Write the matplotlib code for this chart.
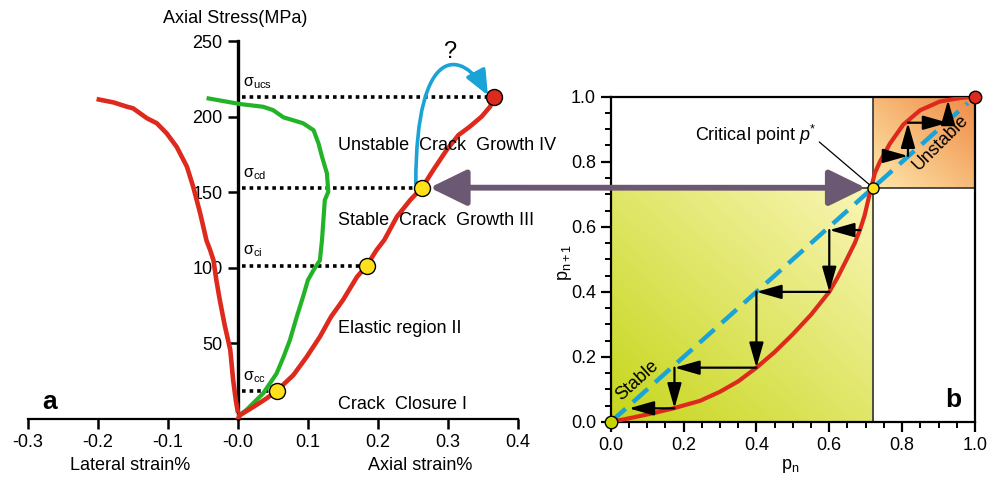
import numpy as np
import matplotlib
matplotlib.use("Agg")
import matplotlib.pyplot as plt
from matplotlib.patches import Rectangle, FancyArrowPatch, ConnectionPatch
from matplotlib.path import Path
from matplotlib.colors import to_rgb

plt.rcParams['font.family'] = ['Liberation Sans', 'DejaVu Sans']
plt.rcParams['mathtext.fontset'] = 'custom'
plt.rcParams['mathtext.rm'] = 'Liberation Sans'
plt.rcParams['mathtext.it'] = 'Liberation Sans:italic'

# ---------------- Panel a data ----------------
lat_strain = [-0.000, -0.003, -0.007, -0.011, -0.019, -0.026, -0.031, -0.035, -0.040, -0.045,
              -0.054, -0.064, -0.073, -0.0876, -0.102, -0.116, -0.130, -0.150, -0.159, -0.178, -0.202]
lat_stress = [4, 12, 26, 45.6, 62, 78.7, 92, 105, 112, 118,
              136, 153.6, 166.9, 180, 189, 195.6, 198.9, 205.5, 206.6, 209.4, 211.6]

vol_strain = [0.002, 0.012, 0.036, 0.055, 0.065, 0.074, 0.084, 0.093, 0.100, 0.108, 0.117, 0.120,
              0.124, 0.129, 0.127, 0.120, 0.115, 0.108, 0.093, 0.065, 0.050, 0.036, 0.003, -0.042]
vol_stress = [2.6, 6, 17, 30, 41, 52, 67.7, 81, 92, 98.5, 105, 118.4,
              144.8, 150.3, 162.5, 173.5, 182.3, 191, 195.6, 199.5, 204.3, 206.5, 208.3, 212]

ax_strain = [0.0, 0.003, 0.022, 0.041, 0.055, 0.079, 0.098, 0.117, 0.133, 0.150, 0.170, 0.184, 0.198,
             0.209, 0.227, 0.246, 0.263, 0.279, 0.298, 0.315, 0.331, 0.348, 0.360, 0.366]
ax_stress = [0.0, 2.6, 8, 13.7, 18.5, 29, 41, 54.4, 67.7, 78.7, 94, 101.5, 111.8,
             118.4, 133.8, 144.8, 153, 164.7, 177.9, 187.8, 193.3, 200, 206.5, 213]

sigma_names = ['σ$_{\\rm cc}$', 'σ$_{\\rm ci}$', 'σ$_{\\rm cd}$', 'σ$_{\\rm ucs}$']
sigma_stress = [18.5, 101.5, 153, 213]
sigma_strain = [0.055, 0.184, 0.263, 0.366]
sigma_colors = ['#ffe01a', '#ffe01a', '#ffe01a', '#dd2a1c']

stage_labels = ['Unstable  Crack  Growth IV', 'Stable  Crack  Growth III',
                'Elastic region II', 'Crack  Closure I']
stage_y = [181, 131.5, 60, 9.3]

xticks_a = [-0.3, -0.2, -0.1, 0.0, 0.1, 0.2, 0.3, 0.4]
xticklabels_a = ['-0.3', '-0.2', '-0.1', '-0.0', '0.1', '0.2', '0.3', '0.4']
yticks_a = [50, 100, 150, 200, 250]

# ---------------- Panel b data ----------------
pn = [0, 0.062, 0.12, 0.172, 0.245, 0.3, 0.35, 0.4, 0.45, 0.5, 0.55, 0.6, 0.624, 0.647, 0.67,
      0.684, 0.697, 0.707, 0.716, 0.725, 0.739, 0.766, 0.803, 0.849, 0.903, 0.958, 1.0]
pn1 = [0, 0.014, 0.028, 0.042, 0.065, 0.093, 0.125, 0.167, 0.215, 0.27, 0.33, 0.4, 0.447, 0.498, 0.55,
       0.59, 0.635, 0.683, 0.724, 0.765, 0.80, 0.855, 0.914, 0.958, 0.985, 0.996, 1.0]
p_crit = 0.72

cobweb_start = [(0.685, 0.59), (0.6, 0.59), (0.6, 0.4), (0.4, 0.4), (0.4, 0.167), (0.175, 0.167), (0.175, 0.042),
                (0.753, 0.818), (0.816, 0.818), (0.816, 0.92), (0.926, 0.92)]
cobweb_end = [(0.6, 0.59), (0.6, 0.4), (0.4, 0.4), (0.4, 0.167), (0.175, 0.167), (0.175, 0.042), (0.05, 0.042),
              (0.816, 0.818), (0.816, 0.92), (0.926, 0.92), (0.926, 0.99)]

ticks_b = [0.0, 0.2, 0.4, 0.6, 0.8, 1.0]

RED = '#dd2a1c'
GREEN = '#22b326'
BLUE = '#1aa3d6'
PURPLE = '#6b5873'
FS = 13

fig = plt.figure(figsize=(9.98, 4.78), dpi=100)

# ================= Panel a =================
ax1 = fig.add_axes([28 / 998, (478 - 419) / 478, 490 / 998, 378 / 478])
ax1.set_xlim(-0.3, 0.4)
ax1.set_ylim(0, 250)
ax1.spines['top'].set_visible(False)
ax1.spines['right'].set_visible(False)
ax1.spines['left'].set_position(('data', 0))
ax1.spines['left'].set_linewidth(2.4)
ax1.spines['bottom'].set_linewidth(1.6)
ax1.set_xticks(xticks_a)
ax1.set_xticklabels(xticklabels_a)
ax1.set_yticks(yticks_a)
ax1.tick_params(axis='both', direction='out', length=7, width=1.8, labelsize=FS, pad=4)
ax1.patch.set_alpha(0)

ax1.plot(lat_strain, lat_stress, color=RED, lw=3.3, solid_capstyle='butt', zorder=3)
ax1.plot(vol_strain, vol_stress, color=GREEN, lw=3.0, zorder=3)
ax1.plot(ax_strain, ax_stress, color=RED, lw=3.3, zorder=3)

for name, s, e in zip(sigma_names, sigma_stress, sigma_strain):
    ax1.plot([0.006, e], [s, s], color='black', lw=2.6, linestyle=(0, (1, 1.1)), zorder=2)
    ax1.text(0.007, s + 4, name, fontsize=11.5, ha='left', va='bottom')
for s, e, c in zip(sigma_stress, sigma_strain, sigma_colors):
    ax1.plot(e, s, 'o', ms=11.5, mfc=c, mec='black', mew=1.0, zorder=6, clip_on=False)

for lab, y in zip(stage_labels, stage_y):
    ax1.text(0.143, y, lab, fontsize=FS, ha='left', va='center')

ax1.text(-0.269, 11, 'a', fontsize=19, fontweight='bold', ha='center', va='center')
ax1.text(-0.004, 265, 'Axial Stress(MPa)', fontsize=FS, ha='center', va='center', clip_on=False)
ax1.text(-0.154, -31, 'Lateral strain%', fontsize=FS, ha='center', va='center', clip_on=False)
ax1.text(0.260, -31, 'Axial strain%', fontsize=FS, ha='center', va='center', clip_on=False)

# blue curved arrow
arrow_path = Path([(0.254, 155.4), (0.254, 250.7), (0.322, 244), (0.357, 214)],
                  [Path.MOVETO, Path.CURVE4, Path.CURVE4, Path.CURVE4])
fa = FancyArrowPatch(path=arrow_path, arrowstyle='-|>,head_length=1.07,head_width=0.46',
                     mutation_scale=14, color=BLUE, lw=2.6, zorder=5, clip_on=False,
                     transform=ax1.transData)
ax1.add_patch(fa)
ax1.text(0.303, 243, '?', fontsize=17, ha='center', va='center')

# ================= Panel b =================
ax2 = fig.add_axes([610.7 / 998, (478 - 422) / 478, 364.3 / 998, 325.3 / 478])
ax2.set_xlim(0, 1)
ax2.set_ylim(0, 1)
ax2.set_xticks(ticks_b)
ax2.set_yticks(ticks_b)
ax2.set_xticklabels(['%.1f' % t for t in ticks_b])
ax2.set_yticklabels(['%.1f' % t for t in ticks_b])
ax2.set_xticks(np.arange(0, 1.0001, 0.05), minor=True)
ax2.set_yticks(np.arange(0, 1.0001, 0.05), minor=True)
ax2.tick_params(which='major', direction='out', length=7, width=1.6, labelsize=FS)
ax2.tick_params(which='minor', direction='out', length=4, width=1.4)
for sp in ax2.spines.values():
    sp.set_linewidth(1.6)


def grad(c0, c1, n=200):
    g = np.linspace(0, 1, n)
    X, Y = np.meshgrid(g, g)
    t = (X + Y) / 2
    a = np.array(to_rgb(c0))
    b = np.array(to_rgb(c1))
    return a + (b - a) * t[..., None]


ax2.imshow(grad('#c6d61a', '#fbf6b8'), extent=[0, p_crit, 0, p_crit], origin='lower',
           aspect='auto', zorder=0, interpolation='bilinear')
ax2.imshow(grad('#fee8aa', '#ef8a45'), extent=[p_crit, 1, p_crit, 1], origin='lower',
           aspect='auto', zorder=0, interpolation='bilinear')
ax2.add_patch(Rectangle((0, 0), p_crit, p_crit, fill=False, ec='#333333', lw=1.2, zorder=1))
ax2.add_patch(Rectangle((p_crit, p_crit), 1 - p_crit, 1 - p_crit, fill=False, ec='#333333', lw=1.2, zorder=1))

ax2.plot([0, 0.98], [0, 0.98], color=BLUE, lw=3.2, linestyle=(0, (4.5, 2.2)), zorder=3)
ax2.plot(pn, pn1, color=RED, lw=3.0, zorder=4)

for s, e in zip(cobweb_start, cobweb_end):
    ax2.annotate('', xy=e, xytext=s,
                 arrowprops=dict(arrowstyle='-|>,head_length=0.95,head_width=0.27', mutation_scale=16,
                                 lw=1.6, color='black', shrinkA=0, shrinkB=0), zorder=5)

ax2.plot(0, 0, 'o', ms=9, mfc='#c8d400', mec='black', mew=1.0, zorder=7, clip_on=False)
ax2.plot(p_crit, p_crit, 'o', ms=8, mfc='#ffe01a', mec='black', mew=1.0, zorder=7, clip_on=False)
ax2.plot(1, 1, 'o', ms=9, mfc=RED, mec='black', mew=1.0, zorder=7, clip_on=False)

ax2.annotate('Critical point $p^{*}$', xy=(0.714, 0.726), xytext=(0.231, 0.883),
             fontsize=FS, ha='left', va='center',
             arrowprops=dict(arrowstyle='-', lw=0.9, color='black', shrinkA=0, shrinkB=0,
                             relpos=(1.0, 0.3)), zorder=6)
ax2.text(0.072, 0.128, 'Stable', fontsize=FS, rotation=42, ha='center', va='center', zorder=6)
ax2.text(0.905, 0.86, 'Unstable', fontsize=FS, rotation=45, ha='center', va='center', zorder=6)
ax2.text(0.94, 0.068, 'b', fontsize=19, fontweight='bold', ha='center', va='center', zorder=6)

fig.text(565 / 998, 1 - 262 / 478, 'p$_{\\rm n+1}$', fontsize=FS, rotation=90, ha='center', va='center')
fig.text(790 / 998, 1 - 466 / 478, 'p$_{\\rm n}$', fontsize=FS, ha='center', va='center')

# purple double arrow linking the panels
con = ConnectionPatch(xyA=(0.274, 153), coordsA=ax1.transData,
                      xyB=(0.700, p_crit), coordsB=ax2.transData,
                      arrowstyle='<|-|>,head_length=0.45,head_width=0.22', mutation_scale=50,
                      color=PURPLE, lw=4.2, shrinkA=0, shrinkB=0, zorder=3)
fig.add_artist(con)

fig.savefig('out.png', dpi=100)
